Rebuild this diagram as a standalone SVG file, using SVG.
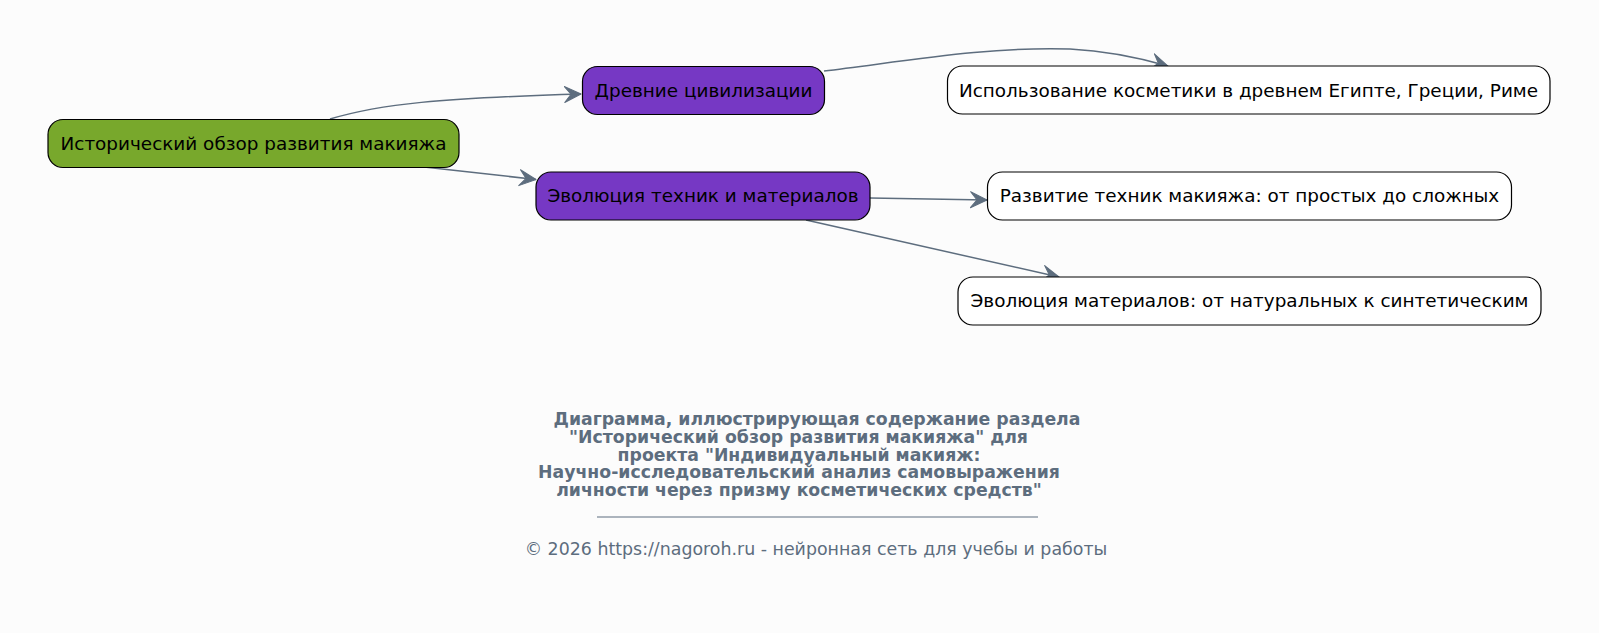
<svg xmlns="http://www.w3.org/2000/svg" width="1599" height="633" viewBox="0 0 1599 633">
<defs>
<style>
.node rect{stroke:#000;stroke-width:1.2}
.node text{font-family:"DejaVu Sans",sans-serif;font-size:18.4px;fill:#000;text-anchor:middle}
.green rect{fill:#78a82c}
.purple rect{fill:#7638c4}
.white rect{fill:#fff}
.edge{fill:none;stroke:#5d6d7e;stroke-width:1.5;marker-end:url(#arr)}
.title{font-family:"DejaVu Sans",sans-serif;font-size:17.3px;font-weight:bold;fill:#5d6d7e;text-anchor:middle}
.copy{font-family:"DejaVu Sans",sans-serif;font-size:17.4px;fill:#5d6d7e;text-anchor:middle}
</style>
<marker id="arr" viewBox="0 0 18 18" refX="17" refY="9" markerWidth="18" markerHeight="18" markerUnits="userSpaceOnUse" orient="auto">
<path d="M0.5,1 L17,9 L0.5,17 L7,9 Z" fill="#5d6d7e" stroke="#5d6d7e" stroke-width="1" stroke-linejoin="round"/>
</marker>
</defs>
<rect width="1599" height="633" fill="#fcfcfc"/>
<g id="connectors">
<path class="edge" d="M330,119 C380,104 440,98 581,94"/>
<path class="edge" d="M424,167 L536,179.5"/>
<path class="edge" d="M824,71 C900,62 990,46 1070,49 C1110,51 1140,58 1168,66"/>
<path class="edge" d="M870,198 L987,200"/>
<path class="edge" d="M806,220 L1059,277"/>
</g>
<g id="node-root" class="node green">
<rect x="48" y="119.5" width="411" height="48" rx="15"/>
<text x="253.5" y="149.5">Исторический обзор развития макияжа</text>
</g>
<g id="node-ancient" class="node purple">
<rect x="582.5" y="66.5" width="242" height="48" rx="15"/>
<text x="703.5" y="96.5">Древние цивилизации</text>
</g>
<g id="node-evolution" class="node purple">
<rect x="536" y="172" width="334" height="48" rx="15"/>
<text x="703" y="202">Эволюция техник и материалов</text>
</g>
<g id="node-cosmetics" class="node white">
<rect x="947.5" y="66" width="602.5" height="48" rx="15"/>
<text x="1248.5" y="96.5">Использование косметики в древнем Египте, Греции, Риме</text>
</g>
<g id="node-techniques" class="node white">
<rect x="987.5" y="172" width="524" height="48" rx="15"/>
<text x="1249.5" y="202">Развитие техник макияжа: от простых до сложных</text>
</g>
<g id="node-materials" class="node white">
<rect x="958" y="277" width="583" height="48" rx="15"/>
<text x="1249.5" y="307">Эволюция материалов: от натуральных к синтетическим</text>
</g>
<g id="caption">
<text class="title" x="817" y="425">Диаграмма, иллюстрирующая содержание раздела</text>
<text class="title" x="798.5" y="443">"Исторический обзор развития макияжа" для</text>
<text class="title" x="799" y="460.5">проекта "Индивидуальный макияж:</text>
<text class="title" x="799" y="478">Научно-исследовательский анализ самовыражения</text>
<text class="title" x="799" y="495.5">личности через призму косметических средств"</text>
<line x1="597" y1="517" x2="1038" y2="517" stroke="#5d6d7e" stroke-width="1"/>
<text class="copy" x="816" y="555">© 2026 https://nagoroh.ru - нейронная сеть для учебы и работы</text>
</g>
</svg>
